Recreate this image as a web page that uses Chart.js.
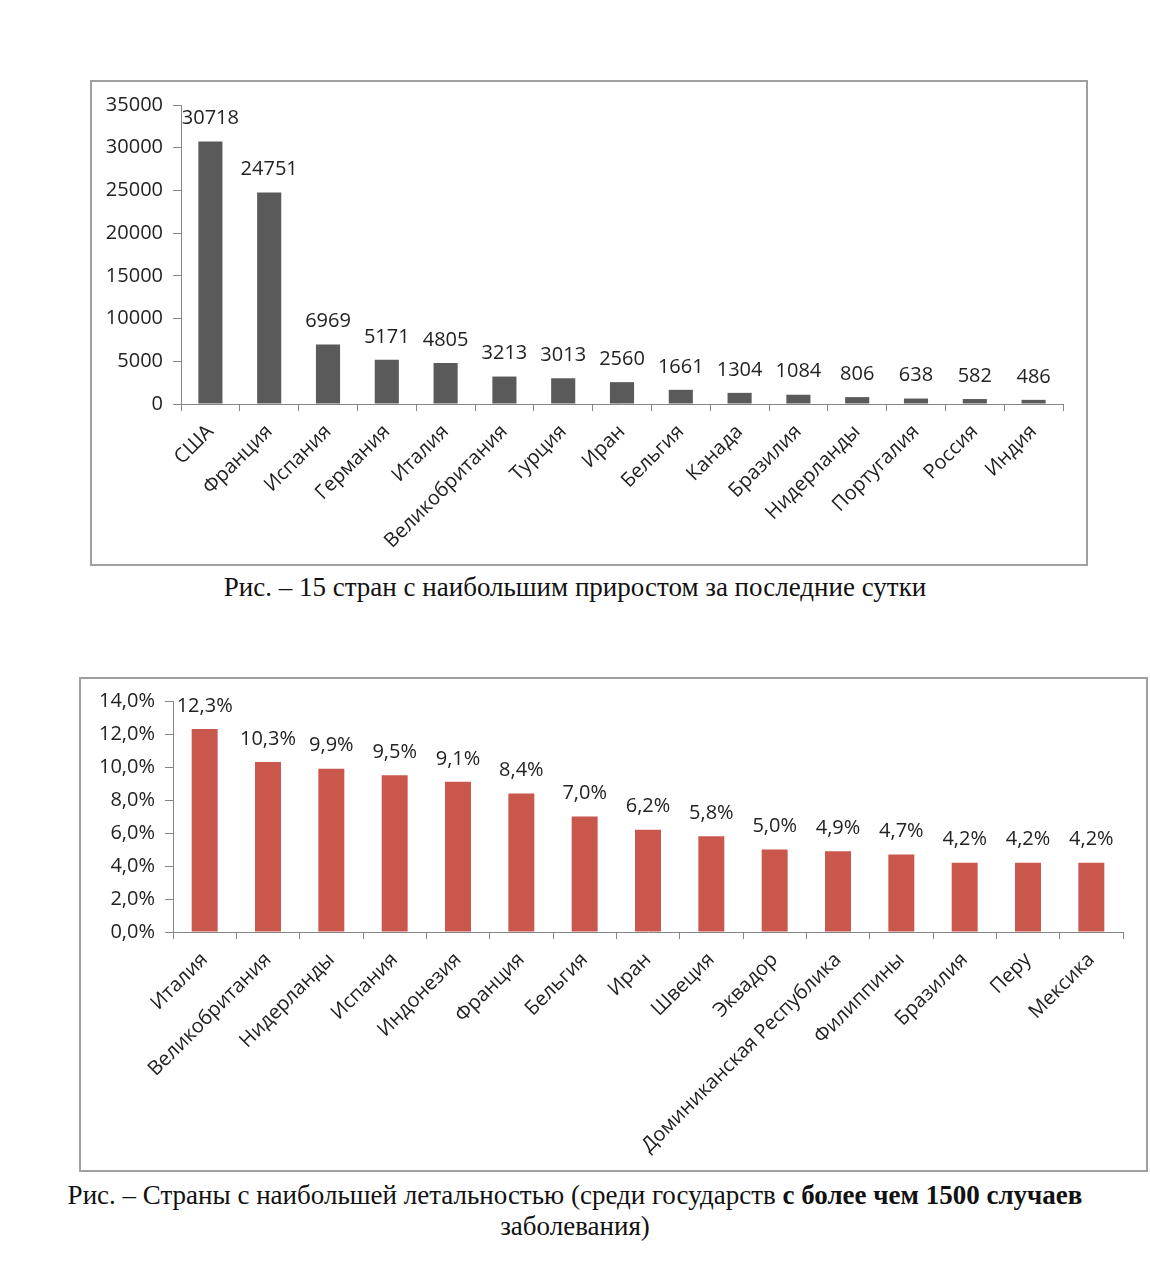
<!DOCTYPE html>
<html lang="ru">
<head>
    <meta charset="UTF-8">
    <title>Графики</title>
    <style>
        body {
            margin: 0;
            background-color: white;
            width: 1150px;
            height: 1280px;
            position: relative;
            font-family: "Open Sans", sans-serif;
        }
        .box {
            position: absolute;
            box-sizing: border-box;
            border: 2px solid #a0a0a0;
            background: white;
        }
        .box canvas {
            display: block;
        }
        .caption {
            position: absolute;
            left: 0;
            width: 1150px;
            text-align: center;
            font-family: "Liberation Serif", "Times New Roman", serif;
            font-size: 27px;
            color: #111;
            line-height: 31px;
        }
    </style>
</head>
<body>
    <div class="box" id="box1" style="left:90px; top:80px; width:998px; height:486px;">
        <canvas id="growthChart"></canvas>
    </div>
    <div class="caption" style="top:572px;">Рис. – 15 стран с наибольшим приростом за последние сутки</div>

    <div class="box" id="box2" style="left:79px; top:677px; width:1069px; height:495px;">
        <canvas id="lethalityChart"></canvas>
    </div>
    <div class="caption" style="top:1180px;">Рис. – Страны с наибольшей летальностью (среди государств <b>с более чем 1500 случаев</b><br>заболевания)</div>

    <script src="https://cdn.jsdelivr.net/npm/chart.js"></script>
    <script>
        // chart 1: daily growth
        const growthLabels = ['США', 'Франция', 'Испания', 'Германия', 'Италия', 'Великобритания', 'Турция', 'Иран', 'Бельгия', 'Канада', 'Бразилия', 'Нидерланды', 'Португалия', 'Россия', 'Индия'];
        const growthValues = [30718, 24751, 6969, 5171, 4805, 3213, 3013, 2560, 1661, 1304, 1084, 806, 638, 582, 486];
        const growthTicks = [0, 5000, 10000, 15000, 20000, 25000, 30000, 35000];

        // chart 2: lethality, in percent
        const lethalityLabels = ['Италия', 'Великобритания', 'Нидерланды', 'Испания', 'Индонезия', 'Франция', 'Бельгия', 'Иран', 'Швеция', 'Эквадор', 'Доминиканская Республика', 'Филиппины', 'Бразилия', 'Перу', 'Мексика'];
        const lethalityValues = [12.3, 10.3, 9.9, 9.5, 9.1, 8.4, 7.0, 6.2, 5.8, 5.0, 4.9, 4.7, 4.2, 4.2, 4.2];
        const lethalityTicks = [0, 2, 4, 6, 8, 10, 12, 14];

        const textColor = '#222';
        const axisColor = '#868686';

        function pct(v) {
            return v.toFixed(1).replace('.', ',') + '%';
        }

        // draws the value above every bar
        const valueLabels = {
            id: 'valueLabels',
            afterDatasetsDraw(chart, args, opts) {
                const ctx = chart.ctx;
                const meta = chart.getDatasetMeta(0);
                const data = chart.data.datasets[0].data;
                ctx.save();
                ctx.font = '20px "Open Sans"';
                ctx.fillStyle = textColor;
                ctx.textAlign = 'center';
                ctx.textBaseline = 'middle';
                meta.data.forEach((bar, i) => {
                    ctx.fillText(opts.format(data[i]), bar.x, bar.y - 23);
                });
                ctx.restore();
            }
        };

        function makeChart(id, box, labels, values, ticks, color, fmt, geom) {
            const el = document.getElementById(id);
            el.width = box.w;
            el.height = box.h;
            return new Chart(el.getContext('2d'), {
                type: 'bar',
                data: {
                    labels: labels,
                    datasets: [{
                        data: values,
                        backgroundColor: color,
                        barPercentage: 0.41,
                        categoryPercentage: 1.0
                    }]
                },
                options: {
                    responsive: false,
                    animation: false,
                    layout: {
                        padding: { top: geom.top, right: geom.right, left: 0, bottom: 0 }
                    },
                    plugins: {
                        legend: { display: false },
                        tooltip: { enabled: false },
                        valueLabels: { format: fmt }
                    },
                    scales: {
                        x: {
                            afterFit: (axis) => { axis.height = geom.xh; },
                            border: { color: axisColor, width: 1 },
                            grid: {
                                display: true,
                                drawOnChartArea: false,
                                drawTicks: true,
                                tickLength: 7,
                                color: axisColor,
                                offset: true
                            },
                            ticks: {
                                autoSkip: false,
                                maxRotation: 45,
                                minRotation: 45,
                                padding: 9,
                                color: textColor,
                                font: { family: '"Open Sans"', size: 20 }
                            }
                        },
                        y: {
                            min: ticks[0],
                            max: ticks[ticks.length - 1],
                            afterFit: (axis) => { axis.width = geom.yw; },
                            afterBuildTicks: (axis) => { axis.ticks = ticks.map(v => ({ value: v })); },
                            border: { color: axisColor, width: 1 },
                            grid: {
                                drawOnChartArea: false,
                                drawTicks: true,
                                tickLength: 8,
                                color: axisColor
                            },
                            ticks: {
                                padding: 10,
                                color: textColor,
                                font: { family: '"Open Sans"', size: 20 },
                                callback: (v) => fmt(v)
                            }
                        }
                    }
                },
                plugins: [valueLabels]
            });
        }

        makeChart('growthChart', { w: 994, h: 482 }, growthLabels, growthValues, growthTicks,
            '#5a5a5a', (v) => String(v), { top: 23, right: 23, yw: 89, xh: 160 });

        makeChart('lethalityChart', { w: 1065, h: 491 }, lethalityLabels, lethalityValues, lethalityTicks,
            '#c9574b', pct, { top: 21, right: 23, yw: 92, xh: 238 });
    </script>
</body>
</html>
